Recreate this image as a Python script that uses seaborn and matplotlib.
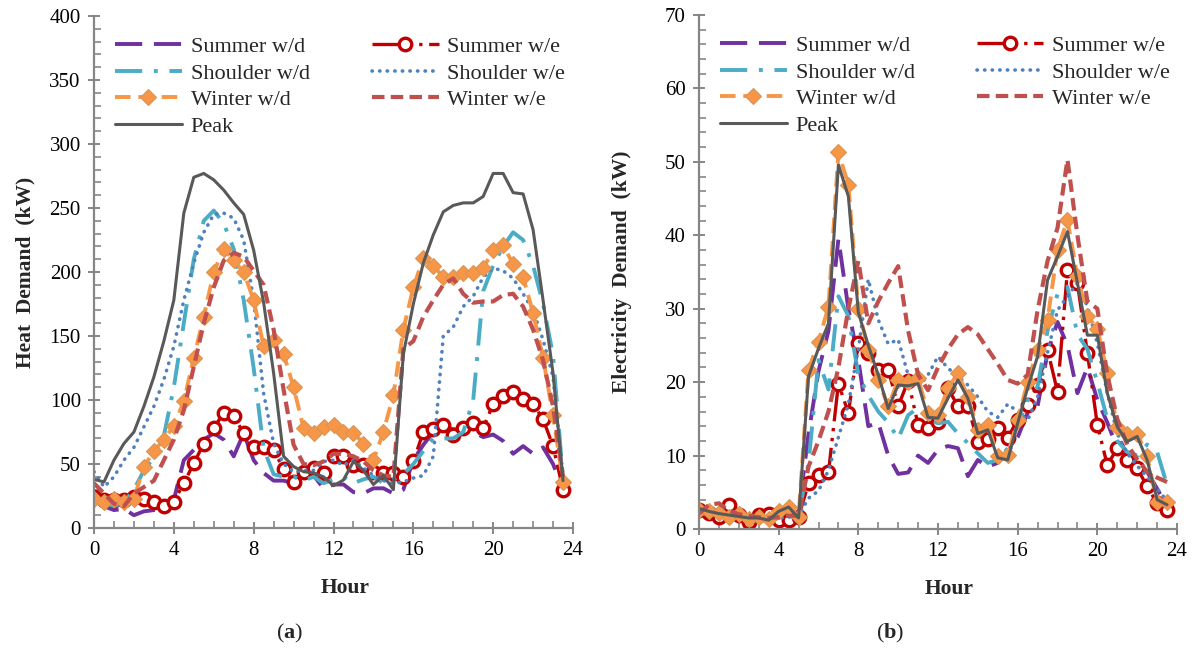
import numpy as np
import pandas as pd
import matplotlib
matplotlib.use("Agg")
import matplotlib.pyplot as plt
from matplotlib.ticker import MultipleLocator
import seaborn as sns

hours = [i * 0.5 for i in range(48)]

# ---- Heat demand (kW) ----
heat_summer_wd = [22, 17, 14, 15, 10, 13, 14, 15, 22, 53, 61, 69, 74, 69, 56, 74, 53, 43, 37, 37,
                  35, 40, 41, 31, 34, 34, 28, 27, 31, 31, 27, 30, 53, 65, 75, 80, 77, 77, 75, 71,
                  73, 68, 58, 64, 58, 63, 50, 30]
heat_summer_we = [24.5, 22, 22, 22, 24.5, 23, 20.6, 17, 20.6, 35, 50.5, 66, 78, 90, 87.5, 74, 63.5, 63, 61, 46,
                  36, 44, 47, 43, 56, 56, 49, 49, 44, 43, 43, 40, 52, 75, 77, 80.5, 73, 78, 82, 78,
                  97, 103, 106, 100.5, 97, 85, 64, 30]
heat_shoulder_wd = [25, 20, 17, 20, 30, 45, 55, 72, 110, 160, 210, 240, 248, 238, 218, 178, 125, 62, 42, 40,
                    40, 37, 40, 35, 38, 40, 35, 38, 40, 35, 38, 42, 50, 60, 70, 70, 70, 75, 100, 185,
                    205, 220, 231, 225, 205, 175, 135, 38]
heat_shoulder_we = [44, 32, 40, 53, 63, 79, 95, 116, 142, 178, 207, 231, 245, 246, 242, 225, 178, 105, 66, 50,
                    44, 45, 45, 52, 53, 49, 53, 47, 41, 37, 35, 36, 39, 41, 56, 150, 157, 173, 181, 196,
                    203, 201, 195, 183, 170, 147, 118, 40]
heat_winter_wd = [23, 20.6, 23, 20.6, 23, 48, 60, 69, 80, 99, 133, 165, 200, 218, 209, 200, 178, 142, 147, 136,
                  110, 78, 74, 79, 80.5, 75, 74.5, 66, 53, 75, 104, 155, 188, 211, 205, 196, 196, 199, 199, 203,
                  217, 221, 206, 196, 168, 133, 88, 36]
heat_winter_we = [35, 27, 19, 17, 27, 32, 37, 53, 69, 92, 126, 160, 188, 209, 215, 212, 201, 190, 155, 108,
                  65, 50, 49, 52, 58, 58, 56, 52, 45, 41, 40, 140, 146, 165, 178, 190, 195, 183, 176, 177,
                  177, 182, 183, 173, 155, 131, 95, 40]
heat_peak = [38, 36, 53, 66, 75, 95, 118, 146, 178, 246, 274, 277, 272, 264, 254, 245, 217, 176, 121, 56,
             48, 44, 43, 40, 33, 37.5, 52, 45, 34, 41, 30, 136, 175, 207, 229, 247, 252, 254, 254, 259,
             277, 277, 262, 261, 233, 178, 121, 37]

# ---- Electricity demand (kW) ----
elec_summer_wd = [2.0, 1.8, 1.6, 1.5, 1.4, 1.2, 1.3, 1.2, 1.5, 1.8, 2.2, 13, 21.5, 27, 39.5, 30, 23, 14, 14.5, 10,
                  7.5, 7.7, 10, 9, 10.8, 11.3, 11, 7.2, 9.4, 8.5, 9, 10.5, 12.5, 15.8, 16.7, 24, 28.2, 25, 18.5, 22,
                  17.6, 14.5, 11, 9.8, 8.8, 7.8, 5.5, 3]
elec_summer_we = [2.6, 2.2, 1.7, 3.3, 1.9, 1.0, 1.9, 2.1, 1.2, 1.2, 1.7, 6.2, 7.4, 7.7, 19.8, 15.8, 25.3, 24, 21.7, 21.7,
                  16.7, 20.2, 14.2, 13.7, 14.6, 19.2, 16.7, 16.7, 11.9, 12.2, 13.7, 12.4, 14.9, 16.9, 19.6, 24.4, 18.7, 35.3, 33.5, 24,
                  14.2, 8.7, 11, 9.4, 8.3, 5.8, 3.5, 2.6]
elec_shoulder_wd = [2.2, 2.0, 1.9, 1.8, 1.6, 1.5, 1.4, 1.3, 1.5, 1.6, 1.8, 9, 23, 19, 31.7, 29, 21, 18.2, 16, 14.5,
                    12.3, 15.5, 16.5, 15, 14.4, 14.6, 13, 11.7, 10.3, 9, 9.4, 11, 14, 17.5, 19.4, 27, 32, 33, 26.5, 24.5,
                    20, 15, 12, 10.5, 10, 11.5, 10.5, 6]
elec_shoulder_we = [2.5, 2.3, 2.0, 2.0, 1.8, 1.6, 1.6, 1.5, 1.5, 1.6, 1.8, 4.2, 5.2, 8, 12.5, 17, 24.5, 34, 28.5, 25.2,
                    25.8, 21, 19.2, 21, 23.5, 21.9, 20.8, 19.6, 18, 16, 15.2, 17, 16, 14.8, 18, 24, 29.8, 31.7, 33.5, 30.3,
                    25.3, 18.5, 13, 10.3, 8.6, 7.1, 5.5, 3.8]
elec_winter_wd = [2.6, 2.4, 2.2, 1.6, 2.0, 1.4, 1.7, 1.4, 2.4, 3.0, 1.7, 21.7, 25.5, 30.3, 51.3, 46.9, 30, 24.4, 20.3, 16.7,
                  20.3, 20, 20.5, 15.8, 15.5, 19.2, 21.2, 18, 13.5, 14.2, 9.9, 10.1, 14.9, 20, 24.4, 28.5, 38, 42.1, 34.4, 29,
                  27.3, 21.2, 13.9, 13, 13, 9.9, 3.7, 3.7]
elec_winter_we = [2.1, 3.3, 3.5, 2.5, 2.0, 1.8, 1.6, 1.5, 1.6, 1.8, 1.8, 8.5, 12, 16, 22, 30, 36.5, 28, 31, 33.5,
                  35.8, 27, 21, 18.9, 22, 24.5, 26.5, 27.5, 26.5, 24.5, 22.5, 20.3, 19.8, 21, 29.8, 36.5, 41, 50.3, 40, 31,
                  30, 21, 15, 11.5, 9.5, 7.8, 7, 6.4]
elec_peak = [2.8, 2.4, 2.1, 1.9, 1.7, 1.5, 1.5, 1.2, 2.4, 3.0, 1.5, 20.8, 24.6, 28, 49.6, 45.3, 29.5, 25, 21, 16.4,
             19.6, 19.5, 19.8, 15.2, 15.1, 17.8, 20.3, 17.8, 13, 13.5, 9.7, 9.4, 14.4, 19.2, 23.5, 33.9, 37.1, 40.5, 33.5, 26.4,
             26.4, 18.5, 13.9, 11.9, 12.6, 9.4, 4, 3.3]

series_names = ["Summer w/d", "Summer w/e", "Shoulder w/d", "Shoulder w/e", "Winter w/d", "Winter w/e", "Peak"]
legend_order = ["Summer w/d", "Shoulder w/d", "Winter w/d", "Peak", "Summer w/e", "Shoulder w/e", "Winter w/e"]

styles = {
    "Summer w/d": dict(color="#7030A0", lw=2.8, linestyle=(0, (7, 3))),
    "Summer w/e": dict(color="#C00000", lw=2.4, linestyle=(0, (9, 2, 1, 2, 1, 2)), marker="o", markersize=9,
                       markerfacecolor="white", markeredgecolor="#C00000", markeredgewidth=2.4),
    "Shoulder w/d": dict(color="#4BACC6", lw=2.8, linestyle=(0, (7, 3, 1, 3))),
    "Shoulder w/e": dict(color="#4F81BD", lw=2.6, linestyle=(0, (0.1, 2.0)), dash_capstyle="round"),
    "Winter w/d": dict(color="#F79646", lw=2.8, linestyle=(0, (4, 2)), marker="D", markersize=8,
                       markerfacecolor="#F79646", markeredgecolor="#D99555", markeredgewidth=0.8),
    "Winter w/e": dict(color="#C0504D", lw=3.0, linestyle=(0, (3, 1.5))),
    "Peak": dict(color="#595959", lw=2.2, linestyle="-"),
}

heat = dict(zip(series_names, [heat_summer_wd, heat_summer_we, heat_shoulder_wd, heat_shoulder_we,
                               heat_winter_wd, heat_winter_we, heat_peak]))
elec = dict(zip(series_names, [elec_summer_wd, elec_summer_we, elec_shoulder_wd, elec_shoulder_we,
                               elec_winter_wd, elec_winter_we, elec_peak]))

sns.set_theme(style="white")
plt.rcParams["font.family"] = ["Liberation Serif", "DejaVu Serif"]
plt.rcParams["mathtext.fontset"] = "custom"
plt.rcParams["mathtext.rm"] = "Liberation Serif"
plt.rcParams["mathtext.bf"] = "Liberation Serif:bold"

fig = plt.figure(figsize=(12, 6.51), dpi=100)
ax1 = fig.add_axes([94 / 1200, 1 - 528 / 651, 479 / 1200, 512 / 651])
ax2 = fig.add_axes([699 / 1200, 1 - 529 / 651, 478 / 1200, 514 / 651])

axis_color = "#868686"


def draw(ax, data, ymax, ymaj, ymin, ylabel, ylab_x):
    for name in series_names:
        sns.lineplot(x=hours, y=data[name], ax=ax, label=name, **styles[name])
    ax.set_xlim(0, 24)
    ax.set_ylim(0, ymax)
    ax.xaxis.set_major_locator(MultipleLocator(4))
    ax.xaxis.set_minor_locator(MultipleLocator(1))
    ax.yaxis.set_major_locator(MultipleLocator(ymaj))
    ax.yaxis.set_minor_locator(MultipleLocator(ymin))
    for s in ["top", "right"]:
        ax.spines[s].set_visible(False)
    for s in ["left", "bottom"]:
        ax.spines[s].set_color(axis_color)
        ax.spines[s].set_linewidth(1.6)
    ax.tick_params(which="major", direction="inout", length=9, width=1.4, color=axis_color,
                   labelsize=15, labelcolor="black", pad=5)
    ax.tick_params(which="minor", direction="in", length=5, width=1.2, color=axis_color)
    ax.tick_params(axis="both", which="both", bottom=True, left=True)
    ax.set_xlabel("Hour", fontsize=15.5, fontweight="bold")
    ax.xaxis.set_label_coords(0.524, -0.098)
    ax.set_ylabel(ylabel, fontsize=15.5, fontweight="bold")
    ax.yaxis.set_label_coords(ylab_x, 0.5)
    ax.grid(False)
    handles, labels = ax.get_legend_handles_labels()
    hmap = dict(zip(labels, handles))
    ax.legend([hmap[n] for n in legend_order], legend_order, ncol=2, frameon=False,
              loc="upper left", bbox_to_anchor=(0.044, 0.96), borderaxespad=0, borderpad=0,
              fontsize=16, handlelength=3.0, handletextpad=0.4, columnspacing=2.8, labelspacing=0.27)
    ax.set_facecolor("white")


draw(ax1, heat, 400, 50, 10, "Heat  Demand  (kW)", -0.122)
draw(ax2, elec, 70, 10, 2, "Electricity  Demand  (kW)", -0.14)

fig.text(290 / 1200, 1 - 633 / 651, r"($\mathbf{a}$)", ha="center", va="center", fontsize=16)
fig.text(890 / 1200, 1 - 633 / 651, r"($\mathbf{b}$)", ha="center", va="center", fontsize=16)

fig.savefig("out.png", dpi=100, facecolor="white")
